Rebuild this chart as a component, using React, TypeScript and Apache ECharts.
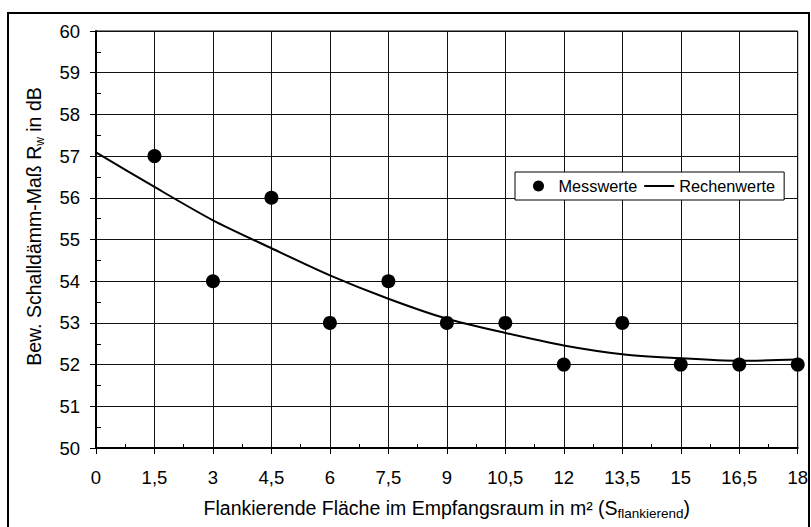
import React, { useEffect, useRef } from "react";
import * as echarts from "echarts";

const measuredX = [1.5, 3, 4.5, 6, 7.5, 9, 10.5, 12, 13.5, 15, 16.5, 18];
const measuredY = [57, 54, 56, 53, 54, 53, 53, 52, 53, 52, 52, 52];
const calcX = [0, 1.5, 3, 4.5, 6, 7.5, 9, 10.5, 12, 13.5, 15, 16.5, 18];
const calcY = [57.09, 56.26, 55.46, 54.79, 54.14, 53.58, 53.1, 52.76, 52.46, 52.25, 52.15, 52.09, 52.12];
const seriesNames = ["Messwerte", "Rechenwerte"];

const FONT = "'Liberation Sans', Arial, sans-serif";

export default function App() {
  const ref = useRef<HTMLDivElement>(null);
  useEffect(() => {
    if (!ref.current) return;
    const chart = echarts.init(ref.current, undefined, { renderer: "svg" });
    const fmt = (v: number) => String(v).replace(".", ",");
    const common = { min: 0, max: 18, interval: 1.5 };
    const yCommon = { min: 50, max: 60, interval: 1 };
    chart.setOption({
      animation: false,
      backgroundColor: "#fff",
      textStyle: { fontFamily: FONT, color: "#000" },
      grid: {
        left: 96, right: 10, top: 31, bottom: 79,
        show: true, borderColor: "#000", borderWidth: 1, backgroundColor: "transparent",
      },
      legend: {
        left: 515, top: 172,
        padding: [6, 9, 6, 18],
        itemGap: 7, itemWidth: 30, itemHeight: 11,
        borderColor: "#000", borderWidth: 1, backgroundColor: "#fff",
        textStyle: { fontFamily: FONT, fontSize: 16.3, color: "#000" },
        data: [
          { name: seriesNames[0], icon: "circle" },
          { name: seriesNames[1], icon: "path://M0,0 L30,0 L30,2 L0,2 Z" },
        ],
      },
      xAxis: [
        {
          type: "value", ...common, position: "bottom",
          axisLine: { show: true, lineStyle: { color: "#000", width: 2 } },
          axisTick: { show: true, inside: false, length: 6, lineStyle: { color: "#000", width: 1 } },
          axisLabel: { formatter: fmt, fontFamily: FONT, fontSize: 18.5, color: "#000", margin: 20 },
          splitLine: { show: true, lineStyle: { color: "#111", width: 1 } },
          name: "{a|Flankierende Fläche im Empfangsraum in m² (S}{s|flankierend}{a|)}",
          nameLocation: "middle", nameGap: 48,
          nameTextStyle: {
            rich: {
              a: { fontFamily: FONT, fontSize: 19.5, color: "#000", lineHeight: 22, verticalAlign: "bottom" },
              s: { fontFamily: FONT, fontSize: 13.5, color: "#000", lineHeight: 13, verticalAlign: "bottom", padding: [0, 0, -2, 0] },
            },
          },
        },
        {
          type: "value", ...common, position: "bottom",
          axisLine: { show: false },
          axisTick: { show: false, inside: true, length: 4 },
          minorTick: { show: true, splitNumber: 2, length: 4, lineStyle: { color: "#000", width: 1 } },
          axisLabel: { show: false },
          splitLine: { show: false },
        },
      ],
      yAxis: [
        {
          type: "value", ...yCommon, position: "left",
          axisLine: { show: true, lineStyle: { color: "#000", width: 2 } },
          axisTick: { show: true, inside: false, length: 6, lineStyle: { color: "#000", width: 1 } },
          axisLabel: { fontFamily: FONT, fontSize: 18.5, color: "#000", margin: 16 },
          splitLine: { show: true, lineStyle: { color: "#111", width: 1 } },
          name: "{a|Bew. Schalldämm-Maß R}{s|w}{a| in dB}",
          nameLocation: "middle", nameGap: 52,
          nameTextStyle: {
            padding: [0, 0, 0, 26],
            rich: {
              a: { fontFamily: FONT, fontSize: 19.5, color: "#000", lineHeight: 22, verticalAlign: "bottom" },
              s: { fontFamily: FONT, fontSize: 12, color: "#000", lineHeight: 12, verticalAlign: "bottom", padding: [0, 0, -2, 0] },
            },
          },
        },
        {
          type: "value", ...yCommon, position: "left",
          axisLine: { show: false },
          axisTick: { show: false, inside: true, length: 5 },
          minorTick: { show: true, splitNumber: 2, length: 5, lineStyle: { color: "#000", width: 1 } },
          axisLabel: { show: false },
          splitLine: { show: false },
        },
      ],
      graphic: [
        {
          type: "rect", silent: true, z: 100,
          shape: { x: 8, y: 13, width: 801, height: 600 },
          style: { fill: "none", stroke: "#000", lineWidth: 2 },
        },
      ],
      series: [
        {
          name: seriesNames[1], type: "line", xAxisIndex: 0, yAxisIndex: 0,
          data: calcX.map((x, i) => [x, calcY[i]]),
          smooth: 0.25, symbol: "none",
          lineStyle: { color: "#000", width: 2 },
          itemStyle: { color: "#000" },
          z: 3,
        },
        {
          name: seriesNames[0], type: "scatter", xAxisIndex: 0, yAxisIndex: 0,
          data: measuredX.map((x, i) => [x, measuredY[i]]),
          symbol: "circle", symbolSize: 14,
          itemStyle: { color: "#000", opacity: 1 },
          z: 4,
        },
      ],
    });
    return () => chart.dispose();
  }, []);
  return (
    <div
      ref={ref}
      style={{ position: "absolute", left: 0, top: 0, width: 811, height: 527 }}
    />
  );
}
